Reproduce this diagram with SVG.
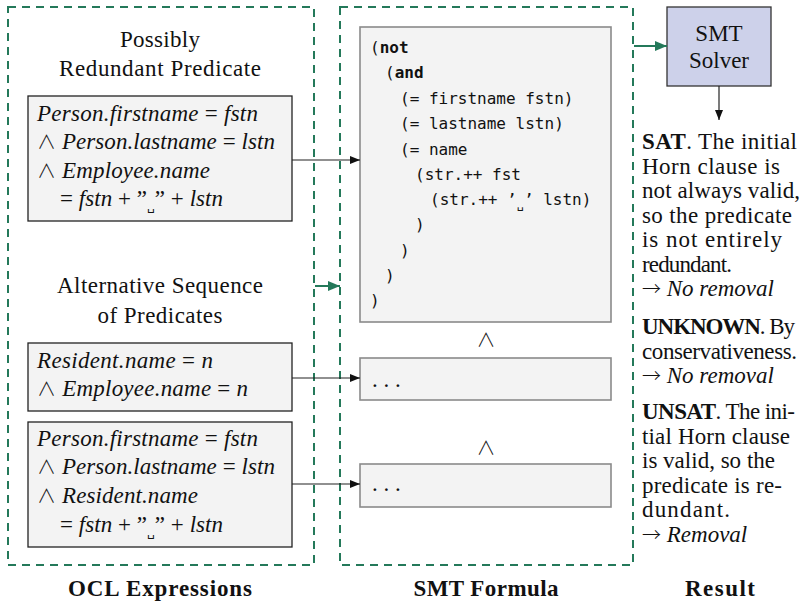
<svg xmlns="http://www.w3.org/2000/svg" width="802" height="604" viewBox="0 0 802 604">
<style>
.panel{fill:none;stroke:#24795a;stroke-width:2;stroke-dasharray:8 6}
.pred{fill:#f3f3f3;stroke:#222;stroke-width:1.3}
.code{fill:#f3f3f3;stroke:#8a8a8a;stroke-width:1.6}
.solver{fill:#cdd1ea;stroke:#333;stroke-width:1.3}
.serif{font-family:"Liberation Serif","Times New Roman",serif;font-size:23px;fill:#111}
.mono{font-family:"DejaVu Sans Mono","Liberation Mono",monospace;font-size:16px;fill:#111}
.i{font-style:italic}
.b{font-weight:bold}
.op{font-family:"Noto Sans CJK JP","DejaVu Sans",sans-serif;font-weight:300;font-style:normal;font-size:19px}
.ar{font-family:"Noto Sans CJK JP","DejaVu Sans",sans-serif;font-weight:300;font-style:normal;font-size:19px}
.sp{font-family:"DejaVu Sans",sans-serif;font-size:12px}
.ctr{text-anchor:middle}
.conn{stroke:#222;stroke-width:1.2;fill:none}
.gconn{stroke:#24795a;stroke-width:2;fill:none}
</style>
<defs>
<marker id="ah" viewBox="0 0 10 8" refX="10" refY="4" markerWidth="10" markerHeight="8" markerUnits="userSpaceOnUse" orient="auto"><path d="M0,0 L10,4 L0,8 z" fill="#111"/></marker>
<marker id="gah" viewBox="0 0 12 10" refX="12" refY="5" markerWidth="12" markerHeight="10" markerUnits="userSpaceOnUse" orient="auto"><path d="M0,0 L12,5 L0,10 z" fill="#24795a"/></marker>
</defs>

<g id="ocl-panel">
<rect class="panel" x="8" y="7" width="306" height="558"/>
<text class="serif ctr" x="160" y="47" textLength="80" lengthAdjust="spacing">Possibly</text>
<text class="serif ctr" x="160" y="76" textLength="202" lengthAdjust="spacing">Redundant Predicate</text>
<text class="serif ctr" x="160" y="293" textLength="206" lengthAdjust="spacing">Alternative Sequence</text>
<text class="serif ctr" x="160" y="323" textLength="125" lengthAdjust="spacing">of Predicates</text>
</g>

<g id="pred-redundant">
<rect class="pred" x="28" y="96" width="264" height="125"/>
<text class="serif" x="37" y="121" textLength="221" lengthAdjust="spacing"><tspan class="i">Person.firstname</tspan> = <tspan class="i">fstn</tspan></text>
<text class="serif" x="37" y="149" textLength="238" lengthAdjust="spacing"><tspan class="op">∧</tspan> <tspan class="i">Person.lastname</tspan> = <tspan class="i">lstn</tspan></text>
<text class="serif" x="37" y="178" textLength="173" lengthAdjust="spacing"><tspan class="op">∧</tspan> <tspan class="i">Employee.name</tspan></text>
<text class="serif" x="60" y="206" textLength="163" lengthAdjust="spacing">= <tspan class="i">fstn</tspan> + ”<tspan class="sp" dy="4">␣</tspan><tspan dy="-4">”</tspan> + <tspan class="i">lstn</tspan></text>
</g>

<g id="pred-alt1">
<rect class="pred" x="28" y="343" width="264" height="68"/>
<text class="serif" x="37" y="368" textLength="176" lengthAdjust="spacing"><tspan class="i">Resident.name</tspan> = <tspan class="i">n</tspan></text>
<text class="serif" x="37" y="396" textLength="211" lengthAdjust="spacing"><tspan class="op">∧</tspan> <tspan class="i">Employee.name</tspan> = <tspan class="i">n</tspan></text>
</g>

<g id="pred-alt2">
<rect class="pred" x="28" y="422" width="264" height="125"/>
<text class="serif" x="37" y="446" textLength="221" lengthAdjust="spacing"><tspan class="i">Person.firstname</tspan> = <tspan class="i">fstn</tspan></text>
<text class="serif" x="37" y="474" textLength="238" lengthAdjust="spacing"><tspan class="op">∧</tspan> <tspan class="i">Person.lastname</tspan> = <tspan class="i">lstn</tspan></text>
<text class="serif" x="37" y="503" textLength="161" lengthAdjust="spacing"><tspan class="op">∧</tspan> <tspan class="i">Resident.name</tspan></text>
<text class="serif" x="60" y="532" textLength="163" lengthAdjust="spacing">= <tspan class="i">fstn</tspan> + ”<tspan class="sp" dy="4">␣</tspan><tspan dy="-4">”</tspan> + <tspan class="i">lstn</tspan></text>
</g>

<g id="smt-panel">
<rect class="panel" x="340" y="7" width="293" height="558"/>
<text class="serif ctr" x="486" y="347"><tspan class="op">∧</tspan></text>
<text class="serif ctr" x="486" y="455"><tspan class="op">∧</tspan></text>
</g>

<g id="smt-formula">
<rect class="code" x="360" y="27" width="251" height="295"/>
<text class="mono" x="370" y="53">(<tspan class="b">not</tspan></text>
<text class="mono" x="385" y="78">(<tspan class="b">and</tspan></text>
<text class="mono" x="400" y="104">(= firstname fstn)</text>
<text class="mono" x="400" y="129">(= lastname lstn)</text>
<text class="mono" x="400" y="155">(= name</text>
<text class="mono" x="415" y="180">(str.++ fst</text>
<text class="mono" x="430" y="205">(str.++ ’<tspan font-size="12" dy="3">␣</tspan><tspan dy="-3">’</tspan> lstn)</text>
<text class="mono" x="415" y="230">)</text>
<text class="mono" x="400" y="256">)</text>
<text class="mono" x="385" y="281">)</text>
<text class="mono" x="370" y="306">)</text>
</g>

<g id="smt-alt1">
<rect class="code" x="360" y="358" width="251" height="42"/>
<text class="serif" x="372" y="387">. . .</text>
</g>

<g id="smt-alt2">
<rect class="code" x="360" y="464" width="251" height="43"/>
<text class="serif" x="372" y="491">. . .</text>
</g>

<g id="smt-solver">
<rect class="solver" x="667" y="7" width="104" height="79"/>
<text class="serif ctr" x="719" y="41">SMT</text>
<text class="serif ctr" x="719" y="68">Solver</text>
</g>

<g id="result">
<text class="serif" x="642" y="149" textLength="155" lengthAdjust="spacing"><tspan class="b">SAT</tspan>. The initial</text>
<text class="serif" x="642" y="173.5" textLength="138" lengthAdjust="spacing">Horn clause is</text>
<text class="serif" x="642" y="198" textLength="158" lengthAdjust="spacing">not always valid,</text>
<text class="serif" x="642" y="222.5" textLength="150" lengthAdjust="spacing">so the predicate</text>
<text class="serif" x="642" y="247" textLength="140" lengthAdjust="spacing">is not entirely</text>
<text class="serif" x="642" y="271.5" textLength="90" lengthAdjust="spacing">redundant.</text>
<text class="serif" x="642" y="296"><tspan class="ar">→</tspan> <tspan class="i">No removal</tspan></text>
<text class="serif" x="642" y="334" textLength="153" lengthAdjust="spacing"><tspan class="b">UNKNOWN</tspan>. By</text>
<text class="serif" x="642" y="358.5" textLength="155" lengthAdjust="spacing">conservativeness.</text>
<text class="serif" x="642" y="383"><tspan class="ar">→</tspan> <tspan class="i">No removal</tspan></text>
<text class="serif" x="642" y="419" textLength="153" lengthAdjust="spacing"><tspan class="b">UNSAT</tspan>. The ini-</text>
<text class="serif" x="642" y="443.5" textLength="148" lengthAdjust="spacing">tial Horn clause</text>
<text class="serif" x="642" y="468" textLength="133" lengthAdjust="spacing">is valid, so the</text>
<text class="serif" x="642" y="492.5" textLength="140" lengthAdjust="spacing">predicate is re-</text>
<text class="serif" x="642" y="517" textLength="88" lengthAdjust="spacing">dundant.</text>
<text class="serif" x="642" y="541.5"><tspan class="ar">→</tspan> <tspan class="i">Removal</tspan></text>
</g>

<g id="labels">
<text class="serif ctr b" x="160" y="596" textLength="184" lengthAdjust="spacing">OCL Expressions</text>
<text class="serif ctr b" x="486" y="596" textLength="145" lengthAdjust="spacing">SMT Formula</text>
<text class="serif ctr b" x="720" y="596" textLength="70" lengthAdjust="spacing">Result</text>
</g>

<g id="connectors">
<line class="conn" x1="292" y1="160" x2="360" y2="160" marker-end="url(#ah)"/>
<line class="conn" x1="292" y1="378" x2="360" y2="378" marker-end="url(#ah)"/>
<line class="conn" x1="292" y1="484" x2="360" y2="484" marker-end="url(#ah)"/>
<line class="gconn" x1="315" y1="286" x2="340" y2="286" marker-end="url(#gah)"/>
<line class="gconn" x1="634" y1="46" x2="667" y2="46" marker-end="url(#gah)"/>
<line class="conn" x1="719" y1="86" x2="719" y2="120" marker-end="url(#ah)"/>
</g>
</svg>
